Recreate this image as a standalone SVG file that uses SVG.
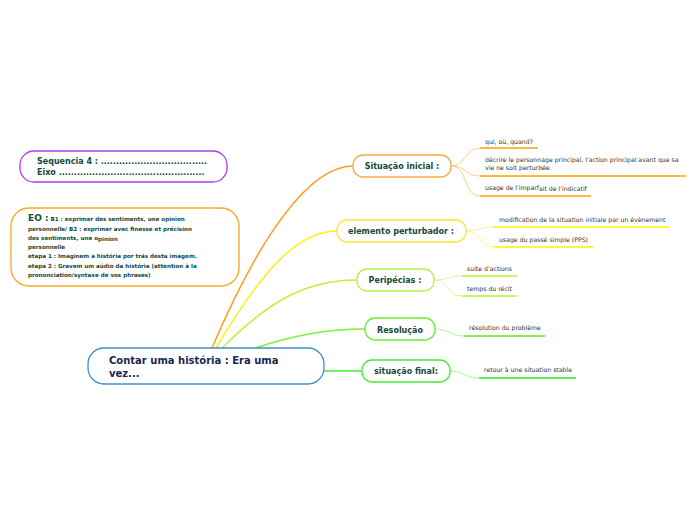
<svg xmlns="http://www.w3.org/2000/svg" width="696" height="520" viewBox="0 0 696 520">
<style>
.node{fill:#ffffff;stroke-width:1.3}
.br{font-family:"DejaVu Sans",Verdana,sans-serif;font-weight:bold;font-size:8px;fill:#17483a;text-anchor:middle}
.leaf{font-family:"DejaVu Sans",Verdana,sans-serif;font-size:6.2px;fill:#333333}
.ul{fill:none;stroke-width:1.6}
.lc{fill:none;stroke-width:0.9}
.mc{fill:none;stroke-width:1.5}
.note{font-family:"DejaVu Sans",Verdana,sans-serif;font-weight:bold;fill:#17483a}
</style>
<rect width="696" height="520" fill="#ffffff"/>
<g id="connectors">
<path class="mc" d="M212,348 C260,235 310,166 353,166" stroke="#ff9a1a" stroke-width="2.2"/>
<path class="mc" d="M216,348 C265,265 300,231 337,231" stroke="#ffee22"/>
<path class="mc" d="M222,348 C268,302 305,280 357,280" stroke="#bff03a"/>
<path class="mc" d="M255,348 C292,336 325,329 365,329" stroke="#7df03a"/>
<path class="mc" d="M324,371 L362,371" stroke="#44ee33"/>
<path class="lc" d="M451,166 C466,166 465,148 480,148" stroke="#ffc878"/>
<path class="lc" d="M451,166 C466,166 465,176 480,176" stroke="#ffc878"/>
<path class="lc" d="M451,166 C468,166 463,196 480,196" stroke="#ffc878"/>
<path class="lc" d="M466,231 C480,231 480,227 494,227" stroke="#fff080"/>
<path class="lc" d="M466,231 C482,231 478,247 494,247" stroke="#fff080"/>
<path class="lc" d="M434,280 C448,280 448,276 462,276" stroke="#d6f590"/>
<path class="lc" d="M434,280 C449,280 447,296 462,296" stroke="#d6f590"/>
<path class="lc" d="M435,329 C450,329 449,336 464,336" stroke="#a8f590"/>
<path class="lc" d="M450,371 C465,371 464,378 479,378" stroke="#90f590"/>
</g>
<g id="central">
<rect class="node" x="88" y="348" width="236" height="36" rx="16" stroke="#3f8fd0"/>
<text font-family="'DejaVu Sans',Verdana,sans-serif" font-weight="bold" font-size="10" fill="#162850"><tspan x="109" y="364">Contar uma história : Era uma</tspan><tspan x="109" y="377">vez...</tspan></text>
</g>
<g id="sequencia">
<rect class="node" x="20" y="151" width="207" height="31" rx="14" stroke="#b03ef0"/>
<text class="note" font-size="8"><tspan x="37" y="164">Sequencia 4 : ...................................</tspan><tspan x="37" y="175">Eixo ................................................</tspan></text>
</g>
<g id="eo">
<rect class="node" x="11" y="208" width="228" height="78" rx="18" stroke="#ffa424"/>
<text class="note" font-size="5.6"><tspan x="28" y="221"><tspan font-size="9">EO :</tspan> B1 : exprimer des sentiments, une opinion</tspan><tspan x="28" y="231">personnelle/ B2 : exprimer avec finesse et précision</tspan><tspan x="28" y="240">des sentiments, une o<tspan dy="0.8">pinion</tspan></tspan><tspan x="28" y="249">personnelle</tspan><tspan x="28" y="258">etapa 1 : Imaginem a história por trás desta imagem.</tspan><tspan x="28" y="268">etapa 2 : Gravem  um aúdio da história (attention à la</tspan><tspan x="28" y="277">prononciation/syntaxe de vos phrases)</tspan></text>
</g>
<g id="situacao-inicial">
<rect class="node" x="353" y="155" width="98" height="22" rx="10" stroke="#f9aa40"/>
<text class="br" x="402" y="169">Situação inicial :</text>
<text class="leaf" x="485" y="144">qui, où, quand?</text>
<path class="ul" d="M480,148 H538" stroke="#ffa200"/>
<text class="leaf"><tspan x="485" y="162">décrire le personnage principal, l'action principal avant que sa</tspan><tspan x="485" y="170">vie ne soit perturbée.</tspan></text>
<path class="ul" d="M480,176 H686" stroke="#ffa200"/>
<text class="leaf" x="485" y="190">usage de l'imparf<tspan dy="0.8">ait de l'indicatif</tspan></text>
<path class="ul" d="M480,196 H591" stroke="#ffa200"/>
</g>
<g id="elemento-perturbador">
<rect class="node" x="337" y="220" width="129" height="22" rx="10" stroke="#f4e830"/>
<text class="br" x="401" y="234">elemento perturbador :</text>
<text class="leaf" x="499" y="222">modification de la situation initiale par un évènement</text>
<path class="ul" d="M494,227 H669" stroke="#ffee00"/>
<text class="leaf" x="499" y="242">usage du passé simple (PPS)</text>
<path class="ul" d="M494,247 H593" stroke="#ffee00"/>
</g>
<g id="peripecias">
<rect class="node" x="357" y="269" width="77" height="22" rx="10" stroke="#b8f048"/>
<text class="br" x="395" y="283">Peripécias :</text>
<text class="leaf" x="467" y="271">suite d'actions</text>
<path class="ul" d="M462,276 H517" stroke="#b8f030"/>
<text class="leaf" x="467" y="291">temps du récit</text>
<path class="ul" d="M462,296 H517" stroke="#b8f030"/>
</g>
<g id="resolucao">
<rect class="node" x="365" y="318" width="70" height="22" rx="10" stroke="#66f030"/>
<text class="br" x="400" y="333">Resolução</text>
<text class="leaf" x="469" y="330">résolution du problème</text>
<path class="ul" d="M464,336 H545" stroke="#55ee20"/>
</g>
<g id="situacao-final">
<rect class="node" x="362" y="360" width="88" height="22" rx="10" stroke="#3ef030"/>
<text class="br" x="406" y="374">situação final:</text>
<text class="leaf" x="484" y="372">retour à une situation stable</text>
<path class="ul" d="M479,378 H576" stroke="#22ee10"/>
</g>
</svg>
